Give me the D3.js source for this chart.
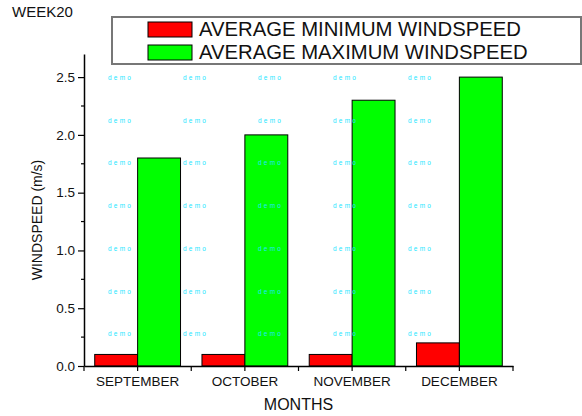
<!DOCTYPE html>
<html>
<head>
<meta charset="utf-8">
<script src="https://cdn.jsdelivr.net/npm/d3@7"></script>
<style>
  body { margin: 0; background: #fff; }
  svg { display: block; font-family: "Liberation Sans", Arial, sans-serif; }
</style>
</head>
<body>
<div id="chart"></div>
<script>
// Chart data
const months = ["SEPTEMBER", "OCTOBER", "NOVEMBER", "DECEMBER"];
const seriesNames = ["AVERAGE MINIMUM WINDSPEED", "AVERAGE MAXIMUM WINDSPEED"];
const minWind = [0.1, 0.1, 0.1, 0.2];
const maxWind = [1.8, 2.0, 2.3, 2.5];
const yTicks = [0, 0.5, 1.0, 1.5, 2.0, 2.5];
const seriesColors = ["#ff0000", "#00ff00"];

const W = 582, H = 416;
const plot = { left: 84, right: 513, top: 54, bottom: 366 };

const svg = d3.select("#chart").append("svg")
  .attr("width", W)
  .attr("height", H);

// Scales
const x = d3.scaleBand().domain(months).range([plot.left, plot.right]).padding(0);
const sub = d3.scaleBand().domain([0, 1]).range([x.bandwidth() * 0.1, x.bandwidth() * 0.9]).padding(0);
const y = d3.scaleLinear().domain([0, 2.7]).range([plot.bottom, plot.top]);

// Bars
const values = [minWind, maxWind];
values.forEach((vals, si) => {
  svg.append("g")
    .selectAll("rect")
    .data(months)
    .enter()
    .append("rect")
    .attr("x", (d) => x(d) + sub(si))
    .attr("y", (d, i) => y(vals[i]))
    .attr("width", sub.bandwidth())
    .attr("height", (d, i) => y(0) - y(vals[i]))
    .attr("fill", seriesColors[si])
    .attr("stroke", "#000")
    .attr("stroke-width", 1);
});

// "demo" watermark grid
const wm = svg.append("g").attr("fill", "#22e6ff").attr("font-size", 6.5).attr("letter-spacing", 2.2);
for (let c = 0; c < 5; c++) {
  for (let r = 0; r < 7; r++) {
    wm.append("text")
      .attr("x", 108 + c * 75)
      .attr("y", 80 + r * 42.7)
      .text("demo");
  }
}

// X axis
const xAxis = svg.append("g")
  .attr("transform", `translate(0,${plot.bottom})`)
  .call(d3.axisBottom(x).tickSize(5).tickSizeOuter(0).tickPadding(5));
xAxis.select(".domain").attr("stroke-width", 1.5);
xAxis.selectAll(".tick line").attr("stroke-width", 1.2);
xAxis.selectAll("text").attr("font-size", 13.5).attr("fill", "#111").attr("font-family", null);

// boundary ticks between months
const bounds = months.map((d) => x(d)).concat([plot.right]);
svg.append("g")
  .selectAll("line")
  .data(bounds)
  .enter()
  .append("line")
  .attr("x1", (d) => d)
  .attr("x2", (d) => d)
  .attr("y1", plot.bottom)
  .attr("y2", plot.bottom + 5)
  .attr("stroke", "#000")
  .attr("stroke-width", 1.2);

// Y axis
const yAxis = svg.append("g")
  .attr("transform", `translate(${plot.left},0)`)
  .call(d3.axisLeft(y).tickValues(yTicks).tickFormat(d3.format(".1f")).tickSize(6).tickSizeOuter(0).tickPadding(3));
yAxis.select(".domain").attr("stroke-width", 1.5);
yAxis.selectAll(".tick line").attr("stroke-width", 1.2);
yAxis.selectAll("text").attr("font-size", 13.5).attr("fill", "#111").attr("font-family", null);

// minor y ticks
svg.append("g")
  .selectAll("line")
  .data([0.25, 0.75, 1.25, 1.75, 2.25])
  .enter()
  .append("line")
  .attr("x1", plot.left - 3)
  .attr("x2", plot.left)
  .attr("y1", (d) => y(d))
  .attr("y2", (d) => y(d))
  .attr("stroke", "#000")
  .attr("stroke-width", 1.2);

// Axis titles
svg.append("text")
  .attr("x", (plot.left + plot.right) / 2)
  .attr("y", 410)
  .attr("text-anchor", "middle")
  .attr("font-size", 16)
  .attr("fill", "#111")
  .text("MONTHS");

svg.append("text")
  .attr("transform", "translate(42,220) rotate(-90)")
  .attr("text-anchor", "middle")
  .attr("font-size", 14)
  .attr("fill", "#111")
  .text("WINDSPEED (m/s)");

svg.append("text")
  .attr("x", 12)
  .attr("y", 17)
  .attr("font-size", 15)
  .attr("fill", "#111")
  .text("WEEK20");

// Legend
const legend = svg.append("g");
legend.append("rect")
  .attr("x", 112)
  .attr("y", 17)
  .attr("width", 469)
  .attr("height", 47)
  .attr("fill", "#fff")
  .attr("stroke", "#777")
  .attr("stroke-width", 2);

seriesNames.forEach((name, i) => {
  legend.append("rect")
    .attr("x", 148)
    .attr("y", 22 + i * 23)
    .attr("width", 44)
    .attr("height", 15)
    .attr("fill", seriesColors[i])
    .attr("stroke", "#000")
    .attr("stroke-width", 1);
  legend.append("text")
    .attr("x", 199)
    .attr("y", 36 + i * 22.5)
    .attr("font-size", 20.3)
    .attr("fill", "#111")
    .text(name);
});
</script>
</body>
</html>
